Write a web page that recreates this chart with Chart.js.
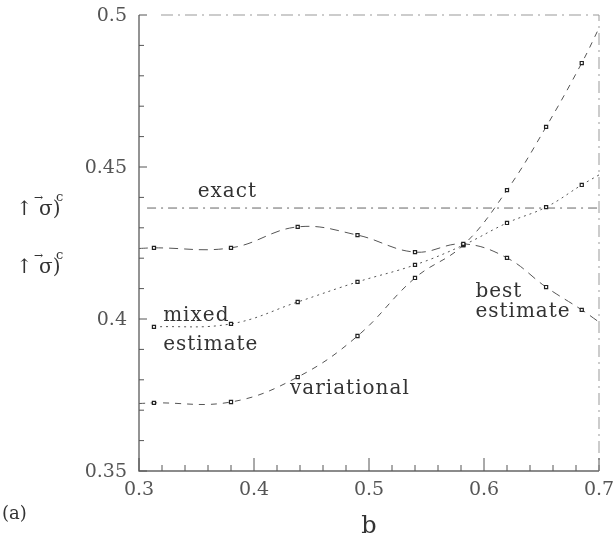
<!DOCTYPE html>
<html>
<head>
<meta charset="utf-8">
<script src="https://cdn.jsdelivr.net/npm/chart.js@4/dist/chart.umd.min.js"></script>
<style>
  html, body { margin: 0; padding: 0; background: #fff; }
  #wrap { width: 614px; height: 539px; }
</style>
</head>
<body>
<div id="wrap"><canvas id="sigmaChart"></canvas></div>
<script>
// b values where the estimates were computed (markers)
const bSamples = [0.313, 0.380, 0.438, 0.490, 0.540, 0.582, 0.620, 0.654, 0.685];
const bestEstimate = [0.4234, 0.4234, 0.4303, 0.4276, 0.4220, 0.4247, 0.4201, 0.4105, 0.4030];
const mixedEstimate = [0.3974, 0.3984, 0.4056, 0.4122, 0.4178, 0.4243, 0.4316, 0.4368, 0.4441];
const variational = [0.3724, 0.3727, 0.3809, 0.3944, 0.4135, 0.4243, 0.4424, 0.4632, 0.4842];

// where the curves meet the frame (b = 0.3 and b = 0.7), null = curve starts at first marker
const bEdges = [0.3, 0.7];
const bestEdges = [0.4232, 0.3990];
const mixedEdges = [null, 0.4474];
const variationalEdges = [0.3722, 0.4957];

const exactValue = 0.4365;
const exactFrom = 0.307;

const xTickLabels = ['0.3', '0.4', '0.5', '0.6', '0.7'];
const yTickLabels = ['0.35', '0.4', '0.45', '0.5'];

function buildCurve(values, edges) {
  const pts = [];
  if (edges[0] !== null) pts.push({ x: bEdges[0], y: edges[0], mark: false });
  bSamples.forEach((b, i) => pts.push({ x: b, y: values[i], mark: true }));
  if (edges[1] !== null) pts.push({ x: bEdges[1], y: edges[1], mark: false });
  return pts;
}

function curveStyle(dash) {
  return {
    showLine: true,
    borderColor: '#555',
    borderWidth: 1,
    borderDash: dash,
    tension: 0.4,
    pointStyle: 'rect',
    pointRadius: c => (c.raw && c.raw.mark ? 2.2 : 0),
    pointBorderColor: '#222',
    pointBackgroundColor: '#fff',
    pointBorderWidth: 1.2
  };
}

const serif = '"DejaVu Serif", "Liberation Serif", serif';
const findLabel = (list, v) => list.find(l => Math.abs(parseFloat(l) - v) < 1e-6) || '';

const frameAndText = {
  id: 'frameAndText',
  afterDraw(chart) {
    const { ctx, chartArea: a, scales: { x, y } } = chart;
    ctx.save();

    // solid left and bottom axis
    ctx.strokeStyle = '#666';
    ctx.lineWidth = 1.4;
    ctx.beginPath();
    ctx.moveTo(a.left, a.top);
    ctx.lineTo(a.left, a.bottom);
    ctx.lineTo(a.right, a.bottom);
    ctx.stroke();

    // broken top and right frame
    ctx.strokeStyle = '#999';
    ctx.lineWidth = 1;
    ctx.setLineDash([12, 5, 2, 5]);
    ctx.beginPath();
    ctx.moveTo(a.left + 22, a.top);
    ctx.lineTo(a.right, a.top);
    ctx.lineTo(a.right, a.bottom);
    ctx.stroke();
    ctx.setLineDash([]);

    // inward ticks + tick labels
    ctx.strokeStyle = '#555';
    ctx.fillStyle = '#555';
    ctx.font = '19px ' + serif;
    ctx.beginPath();
    y.ticks.forEach(t => {
      const py = y.getPixelForValue(t.value);
      const lbl = findLabel(yTickLabels, t.value);
      ctx.moveTo(a.left, py);
      ctx.lineTo(a.left + (lbl ? 8 : 5), py);
      if (lbl) {
        ctx.textAlign = 'right';
        ctx.textBaseline = 'middle';
        ctx.fillText(lbl, a.left - 12, py + 1);
      }
    });
    x.ticks.forEach(t => {
      const px = x.getPixelForValue(t.value);
      const lbl = findLabel(xTickLabels, t.value);
      ctx.moveTo(px, a.bottom);
      ctx.lineTo(px, a.bottom - (lbl ? 13 : 6));
      if (lbl) {
        ctx.textAlign = 'center';
        ctx.textBaseline = 'middle';
        ctx.fillText(lbl, px, a.bottom + 19);
      }
    });
    ctx.stroke();

    // curve labels
    ctx.fillStyle = '#333';
    ctx.font = '20px ' + serif;
    ctx.letterSpacing = '1px';
    ctx.textBaseline = 'middle';
    ctx.textAlign = 'left';
    const label = (txt, bx, vy) => ctx.fillText(txt, x.getPixelForValue(bx), y.getPixelForValue(vy));
    label('exact', 0.351, 0.4420);
    label('mixed', 0.321, 0.4010);
    label('estimate', 0.321, 0.3914);
    label('variational', 0.4313, 0.3770);
    label('best', 0.5925, 0.4089);
    label('estimate', 0.5925, 0.4023);

    // axis titles
    ctx.letterSpacing = '0px';
    ctx.font = '24px ' + serif;
    ctx.textAlign = 'center';
    ctx.fillText('b', x.getPixelForValue(0.5), 527);
    ctx.font = '18px ' + serif;
    ctx.textAlign = 'left';
    ctx.fillText('(a)', 2, 514);

    // y label, printed twice like the original: arrow, sigma with vector arrow, ")", superscript c
    [210, 268].forEach(py => {
      ctx.font = '20px ' + serif;
      ctx.textAlign = 'left';
      ctx.fillText('\u2191 \u03c3)', 16, py);
      ctx.font = '11px ' + serif;
      ctx.fillText('\u2192', 34, py - 12);
      ctx.font = '13px ' + serif;
      ctx.fillText('c', 56, py - 12);
    });

    ctx.restore();
  }
};

new Chart(document.getElementById('sigmaChart'), {
  type: 'scatter',
  data: {
    datasets: [
      { label: 'best estimate', data: buildCurve(bestEstimate, bestEdges), ...curveStyle([9, 6]) },
      { label: 'mixed estimate', data: buildCurve(mixedEstimate, mixedEdges), ...curveStyle([2, 4]) },
      { label: 'variational', data: buildCurve(variational, variationalEdges), ...curveStyle([6, 6]) },
      {
        label: 'exact',
        data: [{ x: exactFrom, y: exactValue }, { x: bEdges[1], y: exactValue }],
        showLine: true,
        borderColor: '#666',
        borderWidth: 1,
        borderDash: [9, 5, 2, 5],
        pointRadius: 0
      }
    ]
  },
  options: {
    responsive: true,
    maintainAspectRatio: false,
    animation: false,
    layout: { padding: { left: 0, top: 15, right: 15, bottom: 0 } },
    plugins: { legend: { display: false }, tooltip: { enabled: false } },
    scales: {
      x: {
        type: 'linear',
        min: 0.3,
        max: 0.7,
        grid: { display: false },
        border: { display: false },
        ticks: { stepSize: 0.02, autoSkip: false, display: false },
        afterFit: s => { s.height = 68; }
      },
      y: {
        type: 'linear',
        min: 0.35,
        max: 0.5,
        grid: { display: false },
        border: { display: false },
        ticks: { stepSize: 0.01, autoSkip: false, display: false },
        afterFit: s => { s.width = 139; }
      }
    }
  },
  plugins: [frameAndText]
});
</script>
</body>
</html>
